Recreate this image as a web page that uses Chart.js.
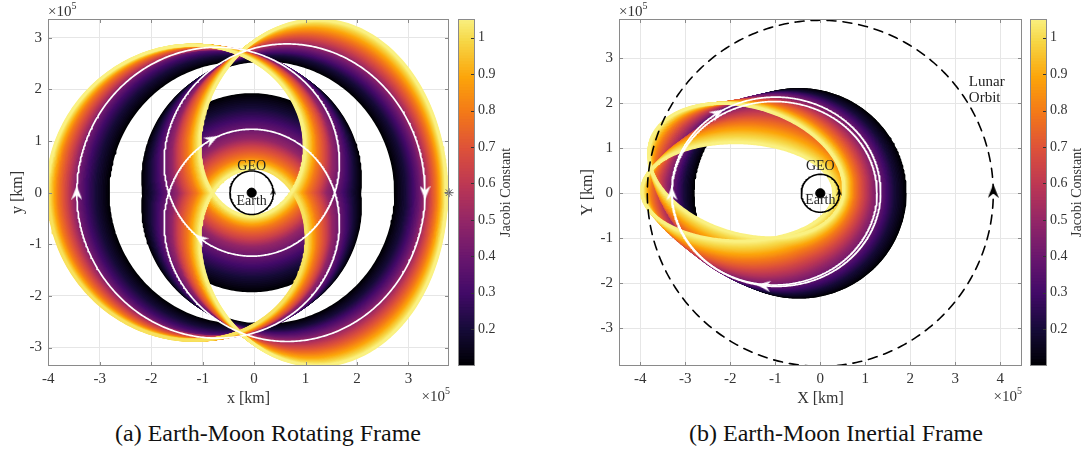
<!DOCTYPE html>
<html>
<head>
<meta charset="utf-8">
<script src="https://cdn.jsdelivr.net/npm/chart.js@4.4.0/dist/chart.umd.min.js"></script>
<style>
  html, body { margin: 0; padding: 0; background: #fff; }
  body { width: 1085px; height: 453px; position: relative; overflow: hidden; }
  canvas { position: absolute; top: 0; }
  .caption { position: absolute; top: 420px; font-family: 'Liberation Serif', 'DejaVu Serif', serif; font-size: 24px; color: #111; text-align: center; white-space: nowrap; }
</style>
</head>
<body>
<canvas id="rotPlot" width="456" height="420" style="left:0px"></canvas>
<canvas id="rotBar" width="80" height="420" style="left:450px"></canvas>
<canvas id="inePlot" width="470" height="420" style="left:560px"></canvas>
<canvas id="ineBar" width="63" height="420" style="left:1022px"></canvas>
<div class="caption" style="left:100px;width:336px">(a) Earth-Moon Rotating Frame</div>
<div class="caption" style="left:668px;width:336px">(b) Earth-Moon Inertial Frame</div>
<script>
// ---------------- data (distances in 1e5 km) ----------------
// measured members of the 2:1 resonant orbit family, by Jacobi constant
const jacobiAnchors      = [0.10, 0.20, 0.30, 0.40, 0.50, 0.65, 0.80, 1.05];
// rotating frame: perigee radius, apogee radius of the left / right revolution
const perigeeAnchors     = [1.90, 1.62, 1.40, 1.21, 1.02, 0.86, 0.66, 0.45];
const apogeeLeftAnchors  = [2.79, 3.05, 3.24, 3.38, 3.48, 3.63, 3.80, 3.98];
const apogeeRightAnchors = [2.80, 3.02, 3.17, 3.29, 3.38, 3.50, 3.63, 3.79];
// lunar bending of each loop (fractional change of its height)
const bendLeftAnchors    = [0, 0, 0, 0, -0.01, -0.02, -0.03, -0.04];
const bendRightAnchors   = [0, 0.01, 0.02, 0.04, 0.07, 0.11, 0.16, 0.24];
// inertial frame: perigee, apogee and apse-line tilt (deg) of each revolution
const inePerigeeFirst    = [1.88, 1.62, 1.45, 1.30, 1.12, 0.92, 0.72, 0.50];
const ineApogeeFirst     = [2.83, 3.05, 3.20, 3.33, 3.45, 3.62, 3.78, 3.95];
const ineTiltFirst       = [0, -2, -3.5, -5, -7, -10, -13, -17];
const inePerigeeSecond   = [1.88, 1.60, 1.40, 1.24, 1.05, 0.80, 0.58, 0.30];
const ineApogeeSecond    = [2.83, 3.05, 3.20, 3.32, 3.45, 3.63, 3.80, 3.97];
const ineTiltSecond      = [0, 0, 0, 0, -0.5, -0.5, -1, -1];
// Jacobi constants at which the family is plotted
const jacobiLevels = [0.1000,0.1125,0.1250,0.1375,0.1500,0.1625,0.1750,0.1875,0.2000,0.2125,0.2250,
  0.2375,0.2500,0.2625,0.2750,0.2875,0.3000,0.3125,0.3250,0.3375,0.3500,0.3625,0.3750,0.3875,0.4000,
  0.4125,0.4250,0.4375,0.4500,0.4625,0.4750,0.4875,0.5000,0.5125,0.5250,0.5375,0.5500,0.5625,0.5750,
  0.5875,0.6000,0.6125,0.6250,0.6375,0.6500,0.6625,0.6750,0.6875,0.7000,0.7125,0.7250,0.7375,0.7500,
  0.7625,0.7750,0.7875,0.8000,0.8125,0.8250,0.8375,0.8500,0.8625,0.8750,0.8875,0.9000,0.9125,0.9250,
  0.9375,0.9500,0.9625,0.9750,0.9875,1.0000,1.0125,1.0250,1.0375,1.0500];

// highlighted reference orbit
const refPerigee = 1.23, refApogeeLeft = 3.40, refApogeeRight = 3.37, refBend = [0, 0.04];
const refInertialPerigee = [1.34, 1.26];
const refInertialApogee  = [3.30, 3.30];
const refInertialTilt    = [-2, 0];
// arrow locations along the reference orbit
const rotArrowAt = [[-3.45, 0.0], [3.32, 0.0], [-0.85, 1.10], [-1.03, -0.88]];
const ineArrowAt = [[-3.30, 0.0], [-2.34, 1.89], [-1.26, -2.11]];

const earthRot = -0.047;     // Earth offset from the barycentre
const moonRot = 3.79;        // Moon in the rotating frame
const geoRadius = 0.4216;
const lunarRadius = 3.844;

const xTicksRot = [-4, -3, -2, -1, 0, 1, 2, 3];
const yTicksRot = [-3, -2, -1, 0, 1, 2, 3];
const xTicksIne = [-4, -3, -2, -1, 0, 1, 2, 3, 4];
const yTicksIne = [-3, -2, -1, 0, 1, 2, 3];
const barTicks = [0.2, 0.3, 0.4, 0.5, 0.6, 0.7, 0.8, 0.9, 1.0];
const CMIN = 0.0993, CMAX = 1.051;

// ---------------- colour map ----------------
const INFERNO = ['#000004','#160b39','#420a68','#6a176e','#932667','#bc3754',
                 '#dd513a','#f37819','#fca50a','#f6d746','#fcffa4'];
function hexRgb(h) { return [parseInt(h.substr(1,2),16), parseInt(h.substr(3,2),16), parseInt(h.substr(5,2),16)]; }
const INF_RGB = INFERNO.map(hexRgb);
function cmap(c) {
  let t = (c - CMIN) / (CMAX - CMIN) * 0.965;
  t = Math.max(0, Math.min(1, t)) * 10;
  const i = Math.min(9, Math.floor(t)), f = t - i;
  const a = INF_RGB[i], b = INF_RGB[i + 1];
  return 'rgb(' + [0,1,2].map(k => Math.round(a[k] + (b[k] - a[k]) * f)).join(',') + ')';
}
function fromAnchors(arr, c) {
  for (let i = 0; i < jacobiAnchors.length - 1; i++) {
    if (c <= jacobiAnchors[i + 1]) {
      const f = (c - jacobiAnchors[i]) / (jacobiAnchors[i + 1] - jacobiAnchors[i]);
      return arr[i] + (arr[i + 1] - arr[i]) * f;
    }
  }
  return arr[arr.length - 1];
}

// ---------------- orbit geometry ----------------
function keplerState(E, rp, ra) {
  const a = (rp + ra) / 2, e = (ra - rp) / (ra + rp);
  const beta = e / (1 + Math.sqrt(1 - e * e));
  const nu = E + 2 * Math.atan(beta * Math.sin(E) / (1 - beta * Math.cos(E)));
  return { r: a * (1 - e * Math.cos(E)), nu: nu, M: E - e * Math.sin(E) };
}
// two revolutions seen from the frame that turns once per lunar month
function rotatingTrack(rp, raL, raR, bendL, bendR, n) {
  const pts = [];
  for (let i = 0; i <= n; i++) {
    const E = 4 * Math.PI * i / n;
    const second = E >= 2 * Math.PI;
    const s = keplerState(E, rp, second ? raR : raL);
    const th = -s.nu - s.M / 2 + Math.PI / 2;
    const w = Math.pow(Math.sin(E / 2), 2);
    const k = 1 + (second ? bendR : bendL) * w;
    pts.push({ x: earthRot + s.r * Math.cos(th), y: s.r * Math.sin(th) * k });
  }
  return pts;
}
function inertialTrack(rp, ra, tiltDeg, n) {
  const pts = [], tl = tiltDeg * Math.PI / 180;
  for (let i = 0; i <= n; i++) {
    const E = 2 * Math.PI * i / n;
    const s = keplerState(E, rp, ra);
    const th = -s.nu + tl;
    pts.push({ x: s.r * Math.cos(th), y: s.r * Math.sin(th) });
  }
  return pts;
}
function circle(cx, r, n) {
  const pts = [];
  for (let i = 0; i <= n; i++) { const t = 2 * Math.PI * i / n; pts.push({ x: cx + r * Math.cos(t), y: r * Math.sin(t) }); }
  return pts;
}
function arrowsOn(track, spots) {
  const out = [], rot = [];
  spots.forEach(([sx, sy]) => {
    let best = 1, bd = 1e9;
    for (let i = 1; i < track.length - 1; i++) {
      const d = (track[i].x - sx) ** 2 + (track[i].y - sy) ** 2;
      if (d < bd) { bd = d; best = i; }
    }
    const p = track[best], q = track[best + 1], o = track[best - 1];
    out.push({ x: p.x, y: p.y });
    rot.push(Math.atan2(-(q.y - o.y), q.x - o.x) * 180 / Math.PI);
  });
  return { pts: out, rot: rot };
}
function arrowHead(color, len, wid) {
  const c = document.createElement('canvas');
  c.width = len; c.height = wid;
  const g = c.getContext('2d');
  g.fillStyle = color;
  g.beginPath();
  g.moveTo(len, wid / 2); g.lineTo(0, 0); g.lineTo(len * 0.32, wid / 2); g.lineTo(0, wid);
  g.closePath(); g.fill();
  return c;
}

// ---------------- datasets ----------------
// brighter members are drawn last so they lie on top
const rotSets = [], ineSets = [];
jacobiLevels.forEach(c => {
  const col = cmap(c);
  const ord = 300 - Math.round(c * 200);
  const line = { showLine: true, borderColor: col, borderWidth: 3, pointRadius: 0, order: ord };
  rotSets.push(Object.assign({ data: rotatingTrack(fromAnchors(perigeeAnchors, c),
    fromAnchors(apogeeLeftAnchors, c), fromAnchors(apogeeRightAnchors, c),
    fromAnchors(bendLeftAnchors, c), fromAnchors(bendRightAnchors, c), 900) }, line));
  ineSets.push(Object.assign({ data: inertialTrack(fromAnchors(inePerigeeFirst, c),
    fromAnchors(ineApogeeFirst, c), fromAnchors(ineTiltFirst, c), 420) }, line));
  ineSets.push(Object.assign({ data: inertialTrack(fromAnchors(inePerigeeSecond, c),
    fromAnchors(ineApogeeSecond, c), fromAnchors(ineTiltSecond, c), 420) }, line));
});

const whiteHead = arrowHead('#ffffff', 14, 11);
const blackHead = arrowHead('#000000', 14, 11);
const smallHead = arrowHead('#000000', 7, 6);

// rotating frame: reference orbit, arrows, GEO, Earth, Moon
const refRot = rotatingTrack(refPerigee, refApogeeLeft, refApogeeRight, refBend[0], refBend[1], 1600);
const refRotArrows = arrowsOn(refRot, rotArrowAt);
rotSets.push({ data: refRot, showLine: true, borderColor: '#ffffff', borderWidth: 1.7, pointRadius: 0, order: 50 });
rotSets.push({ data: refRotArrows.pts, showLine: false, pointStyle: whiteHead, pointRotation: refRotArrows.rot, rotation: refRotArrows.rot, pointRadius: 6, order: 40 });
rotSets.push({ data: circle(earthRot, geoRadius, 120), showLine: true, borderColor: '#000', borderWidth: 1.6, pointRadius: 0, order: 30 });
rotSets.push({ data: [{ x: earthRot + geoRadius, y: 0.02 }], showLine: false, pointStyle: smallHead, pointRotation: [-90], rotation: [-90], pointRadius: 4, order: 29 });
rotSets.push({ data: [{ x: earthRot, y: 0 }], showLine: false, pointStyle: 'circle', pointRadius: 4.6, backgroundColor: '#000', borderColor: '#000', order: 20 });
rotSets.push({ data: [{ x: moonRot, y: 0 }], showLine: false, pointStyle: 'star', pointRadius: 4.5, borderColor: '#555', borderWidth: 1, clip: false, order: 10 });

// inertial frame: reference orbit (two revolutions), lunar orbit, GEO, Earth
const refIne = [0, 1].map(k => inertialTrack(refInertialPerigee[k], refInertialApogee[k], refInertialTilt[k], 700));
const ineArrows = arrowsOn(refIne[0], ineArrowAt);
refIne.forEach(tr => ineSets.push({ data: tr, showLine: true, borderColor: '#ffffff', borderWidth: 1.7, pointRadius: 0, order: 50 }));
ineSets.push({ data: ineArrows.pts, showLine: false, pointStyle: whiteHead, pointRotation: ineArrows.rot, rotation: ineArrows.rot, pointRadius: 6, order: 40 });
ineSets.push({ data: circle(0, lunarRadius, 360), showLine: true, borderColor: '#000', borderWidth: 1.6, borderDash: [9, 7], pointRadius: 0, order: 35 });
ineSets.push({ data: [{ x: lunarRadius, y: 0.05 }], showLine: false, pointStyle: blackHead, pointRotation: [-90], rotation: [-90], pointRadius: 6, order: 34 });
ineSets.push({ data: circle(0, geoRadius, 120), showLine: true, borderColor: '#000', borderWidth: 1.6, pointRadius: 0, order: 30 });
ineSets.push({ data: [{ x: geoRadius, y: 0.02 }], showLine: false, pointStyle: smallHead, pointRotation: [-90], rotation: [-90], pointRadius: 4, order: 29 });
ineSets.push({ data: [{ x: 0, y: 0 }], showLine: false, pointStyle: 'circle', pointRadius: 4.6, backgroundColor: '#000', borderColor: '#000', order: 20 });

// ---------------- drawing helpers ----------------
const SERIF = "'Liberation Serif', 'DejaVu Serif', serif";
const AXIS_GREY = '#8a8a8a';

function boxPlugin(xTicks, yTicks) {
  return {
    id: 'box',
    afterDatasetsDraw(chart) {
      const { ctx, chartArea: a, scales } = chart;
      ctx.save();
      ctx.strokeStyle = AXIS_GREY; ctx.lineWidth = 1;
      ctx.strokeRect(a.left + 0.5, a.top + 0.5, a.right - a.left - 1, a.bottom - a.top - 1);
      ctx.beginPath();
      xTicks.forEach(v => { const px = Math.round(scales.x.getPixelForValue(v)) + 0.5;
        ctx.moveTo(px, a.bottom); ctx.lineTo(px, a.bottom - 4); ctx.moveTo(px, a.top); ctx.lineTo(px, a.top + 4); });
      yTicks.forEach(v => { const py = Math.round(scales.y.getPixelForValue(v)) + 0.5;
        ctx.moveTo(a.left, py); ctx.lineTo(a.left + 4, py); ctx.moveTo(a.right, py); ctx.lineTo(a.right - 4, py); });
      ctx.stroke();
      ctx.restore();
    }
  };
}
function drawPow(ctx, x, y, alignRight) {
  ctx.save();
  ctx.fillStyle = '#333';
  ctx.textBaseline = 'middle';
  ctx.font = '15px ' + SERIF;
  const w1 = ctx.measureText('\u00d710').width;
  ctx.font = '10px ' + SERIF;
  const w2 = ctx.measureText('5').width;
  const x0 = alignRight ? x - w1 - w2 : x;
  ctx.font = '15px ' + SERIF; ctx.textAlign = 'left';
  ctx.fillText('\u00d710', x0, y);
  ctx.font = '10px ' + SERIF;
  ctx.fillText('5', x0 + w1, y - 6);
  ctx.restore();
}
function labelPlugin(items, powTop, powBottom) {
  return {
    id: 'labels',
    afterDraw(chart) {
      const { ctx, scales } = chart;
      ctx.save();
      ctx.fillStyle = '#222';
      ctx.textBaseline = 'middle';
      items.forEach(it => {
        ctx.font = it.size + 'px ' + SERIF;
        ctx.textAlign = it.align || 'center';
        ctx.fillText(it.text, scales.x.getPixelForValue(it.x), scales.y.getPixelForValue(it.y));
      });
      ctx.restore();
      drawPow(ctx, powTop[0], powTop[1], false);
      drawPow(ctx, powBottom[0], powBottom[1], true);
    }
  };
}

function mainChart(id, datasets, lim, xTicks, yTicks, yAxisWidth, titles, yTitleOffset, padRight, labels, powTop, powBottom) {
  const tickFont = { family: SERIF, size: 15 };
  const titleFont = { family: SERIF, size: 16 };
  new Chart(document.getElementById(id), {
    type: 'scatter',
    data: { datasets: datasets },
    options: {
      responsive: false, animation: false, events: [],
      parsing: false, normalized: true,
      layout: { padding: { top: 19, right: padRight, left: 0, bottom: 0 } },
      plugins: { legend: { display: false }, tooltip: { enabled: false } },
      elements: { line: { tension: 0, borderJoinStyle: 'round', borderCapStyle: 'round' } },
      scales: {
        x: {
          type: 'linear', min: lim[0], max: lim[1],
          afterFit: s => { s.height = 54; },
          afterBuildTicks: s => { s.ticks = xTicks.map(v => ({ value: v })); },
          ticks: { font: tickFont, color: '#333', padding: 4, callback: v => String(v) },
          grid: { color: '#e6e6e6', drawTicks: false },
          border: { display: false },
          title: { display: true, text: titles[0], font: titleFont, color: '#333', padding: { top: 0, bottom: 12 } }
        },
        y: {
          type: 'linear', min: lim[2], max: lim[3],
          afterFit: s => { s.width = yAxisWidth; },
          afterBuildTicks: s => { s.ticks = yTicks.map(v => ({ value: v })); },
          ticks: { font: tickFont, color: '#333', padding: 6, callback: v => String(v) },
          grid: { color: '#e6e6e6', drawTicks: false },
          border: { display: false },
          title: { display: true, text: titles[1], font: titleFont, color: '#333', padding: { top: yTitleOffset } }
        }
      }
    },
    plugins: [boxPlugin(xTicks, yTicks), labelPlugin(labels, powTop, powBottom)]
  });
}

function colorBar(id, leftPad, titleX) {
  const sets = [];
  const steps = 120;
  for (let i = 0; i < steps; i++) {
    const lo = CMIN + (CMAX - CMIN) * i / steps, hi = CMIN + (CMAX - CMIN) * (i + 1) / steps;
    sets.push({ data: [[lo, hi + 0.002]], backgroundColor: cmap((lo + hi) / 2), borderWidth: 0,
      barPercentage: 1, categoryPercentage: 1, grouped: false });
  }
  new Chart(document.getElementById(id), {
    type: 'bar',
    data: { labels: ['C'], datasets: sets },
    options: {
      responsive: false, animation: false, events: [],
      layout: { padding: { top: 19, left: leftPad, right: 0, bottom: 54 } },
      plugins: { legend: { display: false }, tooltip: { enabled: false } },
      scales: {
        x: { display: false },
        y: {
          position: 'right', min: CMIN, max: CMAX,
          afterFit: s => { s.width = s.chart.width - leftPad - 17; },
          afterBuildTicks: s => { s.ticks = barTicks.map(v => ({ value: v })); },
          ticks: { font: { family: SERIF, size: 14 }, color: '#333', padding: 3,
                   callback: v => (Math.abs(v - 1) < 1e-9 ? '1' : v.toFixed(1)) },
          grid: { display: false, drawTicks: false },
          border: { display: false }
        }
      }
    },
    plugins: [{
      id: 'barFrame',
      afterDraw(chart) {
        const { ctx, chartArea: a, scales } = chart;
        ctx.save();
        ctx.strokeStyle = AXIS_GREY; ctx.lineWidth = 1;
        ctx.strokeRect(a.left + 0.5, a.top + 0.5, a.right - a.left - 1, a.bottom - a.top - 1);
        ctx.strokeStyle = '#333';
        ctx.beginPath();
        barTicks.forEach(v => { const py = Math.round(scales.y.getPixelForValue(v)) + 0.5;
          ctx.moveTo(a.right - 1, py); ctx.lineTo(a.right - 4, py); });
        ctx.stroke();
        ctx.translate(titleX, (a.top + a.bottom) / 2);
        ctx.rotate(-Math.PI / 2);
        ctx.fillStyle = '#333';
        ctx.font = '14px ' + SERIF;
        ctx.textAlign = 'center'; ctx.textBaseline = 'middle';
        ctx.fillText('Jacobi Constant', 0, 0);
        ctx.restore();
      }
    }]
  });
}

mainChart('rotPlot', rotSets, [-4.006, 3.789, -3.358, 3.366], xTicksRot, yTicksRot, 48,
  ['x [km]', 'y [km]'], 8, 6,
  [{ text: 'GEO', x: earthRot, y: 0.52, size: 14 }, { text: 'Earth', x: earthRot, y: -0.17, size: 14 }],
  [48, 12], [450, 397]);
colorBar('rotBar', 8, 56);

mainChart('inePlot', ineSets, [-4.473, 4.482, -3.838, 3.873], xTicksIne, yTicksIne, 59,
  ['X [km]', 'Y [km]'], 18, 8,
  [{ text: 'GEO', x: 0, y: 0.59, size: 14 }, { text: 'Earth', x: 0, y: -0.15, size: 14 },
   { text: 'Lunar', x: 3.3, y: 2.48, size: 15, align: 'left' }, { text: 'Orbit', x: 3.3, y: 2.11, size: 15, align: 'left' }],
  [59, 12], [462, 397]);
colorBar('ineBar', 8, 55);
</script>
</body>
</html>
